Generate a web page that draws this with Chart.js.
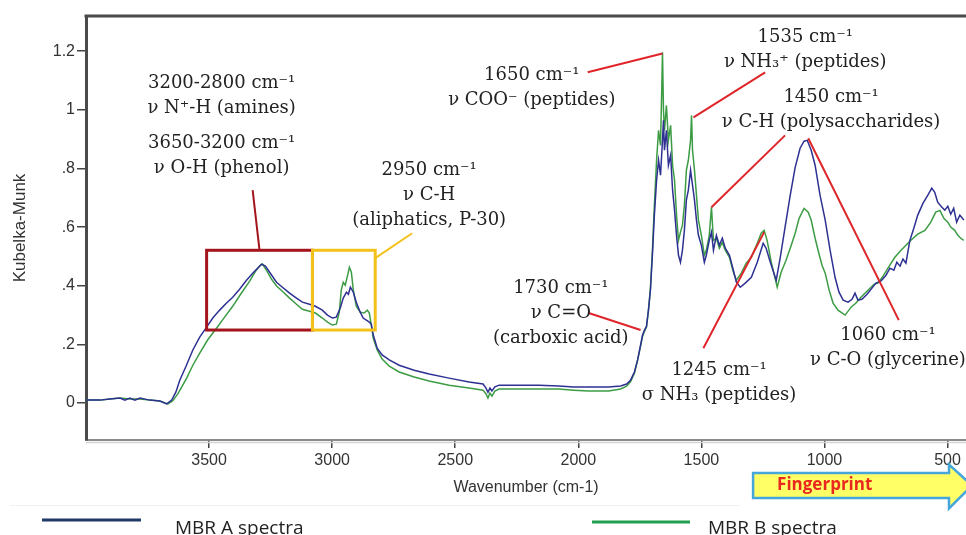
<!DOCTYPE html>
<html>
<head>
<meta charset="utf-8">
<title>MBR spectra</title>
<script src="https://cdn.jsdelivr.net/npm/chart.js@4.4.1/dist/chart.umd.min.js"></script>
<style>
  html, body { margin: 0; padding: 0; background: #fff; }
  #wrap { width: 966px; height: 535px; position: relative; overflow: hidden; }
</style>
</head>
<body>
<div id="wrap"><canvas id="spectraChart" width="966" height="535"></canvas></div>
<script>
// Wavenumber (cm-1) and Kubelka-Munk values
const wavenumbersA = [4000,3943,3903,3862,3842,3822,3801,3781,3741,3700,
  3672,3652,3635,3619,3595,3566,3538,3510,3485,3457,
  3429,3404,3376,3348,3319,3299,3287,3271,3254,3226,
  3202,3173,3145,3121,3092,3068,3040,3019,2999,2983,
  2967,2955,2942,2934,2926,2914,2902,2886,2874,2861,
  2849,2841,2833,2817,2797,2768,2728,2667,2606,2525,
  2444,2387,2375,2367,2359,2351,2339,2322,2241,2160,
  2079,2019,1958,1877,1828,1804,1788,1772,1759,1747,
  1739,1731,1723,1715,1707,1699,1691,1682,1674,1666,
  1658,1654,1650,1642,1634,1625,1617,1609,1601,1593,
  1585,1577,1569,1561,1553,1544,1536,1528,1520,1512,
  1500,1488,1480,1468,1459,1451,1439,1427,1415,1403,
  1386,1370,1358,1342,1322,1297,1273,1249,1237,1220,
  1196,1180,1160,1139,1119,1099,1083,1070,1054,1038,
  1018,997,977,957,941,924,904,888,876,864,
  848,827,807,791,771,750,734,718,706,693,
  681,669,653,637,621,600,580,564,552,540,
  523,511,499,487,475,463,450,434];
const kubelkaA = [0.010,0.010,0.014,0.017,0.010,0.017,0.010,0.017,0.010,0.007,
  -0.003,0.010,0.037,0.078,0.123,0.181,0.225,0.259,0.290,0.317,
  0.341,0.361,0.388,0.419,0.446,0.463,0.474,0.467,0.446,0.412,
  0.395,0.375,0.358,0.344,0.337,0.330,0.317,0.300,0.290,0.293,
  0.324,0.358,0.378,0.371,0.395,0.378,0.344,0.310,0.290,0.283,
  0.276,0.269,0.232,0.187,0.164,0.147,0.129,0.112,0.099,0.085,
  0.072,0.065,0.051,0.037,0.051,0.041,0.055,0.061,0.061,0.061,
  0.058,0.055,0.055,0.055,0.058,0.065,0.078,0.106,0.147,0.198,
  0.232,0.249,0.262,0.317,0.385,0.504,0.641,0.760,0.828,0.777,
  0.896,0.964,0.862,0.930,0.811,0.845,0.726,0.658,0.572,0.504,
  0.480,0.521,0.589,0.692,0.726,0.794,0.743,0.692,0.624,0.572,
  0.538,0.480,0.504,0.555,0.583,0.521,0.572,0.538,0.562,0.528,
  0.504,0.453,0.412,0.395,0.409,0.429,0.480,0.545,0.528,0.480,
  0.419,0.494,0.600,0.709,0.804,0.869,0.893,0.896,0.862,0.811,
  0.709,0.624,0.521,0.429,0.378,0.351,0.344,0.354,0.375,0.351,
  0.354,0.371,0.392,0.409,0.416,0.436,0.460,0.453,0.480,0.467,
  0.491,0.477,0.555,0.596,0.641,0.681,0.709,0.733,0.719,0.685,
  0.668,0.658,0.671,0.644,0.664,0.617,0.641,0.624];

const wavenumbersB = [4000,3943,3903,3862,3822,3781,3741,3700,3668,3648,
  3627,3611,3591,3566,3538,3506,3469,3437,3404,3372,
  3335,3311,3295,3283,3267,3246,3226,3198,3173,3145,
  3121,3092,3068,3040,3019,2999,2983,2971,2963,2955,
  2947,2938,2930,2922,2914,2902,2886,2870,2857,2849,
  2841,2833,2817,2797,2768,2728,2667,2606,2525,2444,
  2387,2375,2367,2359,2351,2339,2322,2241,2160,2079,
  2019,1958,1877,1828,1804,1788,1772,1759,1747,1739,
  1731,1723,1715,1707,1699,1691,1682,1674,1666,1662,
  1658,1654,1650,1642,1634,1625,1617,1609,1601,1593,
  1585,1577,1569,1561,1553,1544,1540,1536,1528,1520,
  1512,1500,1488,1480,1468,1459,1451,1439,1427,1415,
  1403,1386,1370,1358,1338,1318,1297,1273,1257,1245,
  1233,1216,1192,1176,1156,1135,1119,1103,1083,1066,
  1054,1038,1026,1010,997,981,965,945,916,892,
  872,852,823,799,783,762,742,714,689,669,
  649,621,592,568,548,531,515,499,487,471,
  458,446,434];
const kubelkaB = [0.010,0.010,0.014,0.017,0.014,0.014,0.010,0.007,-0.003,0.007,
  0.031,0.055,0.085,0.129,0.170,0.215,0.256,0.293,0.330,0.371,
  0.416,0.450,0.467,0.474,0.453,0.422,0.399,0.378,0.358,0.337,
  0.320,0.313,0.307,0.290,0.276,0.266,0.269,0.310,0.385,0.412,
  0.402,0.433,0.463,0.446,0.385,0.330,0.310,0.307,0.317,0.307,
  0.266,0.221,0.181,0.150,0.126,0.106,0.089,0.075,0.061,0.051,
  0.044,0.031,0.017,0.034,0.024,0.041,0.048,0.048,0.048,0.048,
  0.044,0.041,0.041,0.048,0.058,0.072,0.102,0.147,0.194,0.228,
  0.245,0.259,0.317,0.392,0.521,0.675,0.828,0.930,0.879,1.032,
  1.196,0.998,0.930,1.015,0.896,0.947,0.811,0.760,0.641,0.555,
  0.583,0.606,0.675,0.794,0.828,0.896,0.981,0.862,0.794,0.709,
  0.624,0.572,0.504,0.521,0.572,0.668,0.555,0.562,0.528,0.548,
  0.521,0.497,0.446,0.419,0.443,0.477,0.497,0.545,0.579,0.589,
  0.555,0.480,0.395,0.446,0.487,0.538,0.579,0.630,0.664,0.651,
  0.624,0.562,0.521,0.470,0.443,0.385,0.341,0.317,0.300,0.327,
  0.341,0.361,0.385,0.405,0.409,0.433,0.460,0.497,0.521,0.538,
  0.555,0.576,0.589,0.617,0.651,0.657,0.630,0.617,0.600,0.589,
  0.572,0.562,0.555];

const xTicks = [3500, 3000, 2500, 2000, 1500, 1000, 500];
const yTicks = [0, 0.2, 0.4, 0.6, 0.8, 1, 1.2];
const yTickLabels = ['0', '.2', '.4', '.6', '.8', '1', '1.2'];
const seriesNames = ['MBR A spectra', 'MBR B spectra'];

// band annotations: text lines anchored at (wavenumber, K-M) of the first line centre
const bandLabels = [
  { lines: ['3200-2800 cm\u207B\u00B9', '\u03BD N\u207A-H (amines)'], wn: 3449, km: 1.090 },
  { lines: ['3650-3200 cm\u207B\u00B9', '\u03BD O-H (phenol)'], wn: 3449, km: 0.886 },
  { lines: ['2950 cm\u207B\u00B9', '\u03BD C-H', '(aliphatics, P-30)'], wn: 2606, km: 0.794 },
  { lines: ['1650 cm\u207B\u00B9', '\u03BD COO\u207B (peptides)'], wn: 2189, km: 1.118 },
  { lines: ['1535 cm\u207B\u00B9', '\u03BD NH\u2083\u207A (peptides)'], wn: 1078, km: 1.247 },
  { lines: ['1450 cm\u207B\u00B9', '\u03BD C-H (polysaccharides)'], wn: 973, km: 1.043 },
  { lines: ['1730 cm\u207B\u00B9', '\u03BD C=O', '(carboxic acid)'], wn: 2071, km: 0.392 },
  { lines: ['1245 cm\u207B\u00B9', '\u03C3 NH\u2083 (peptides)'], wn: 1428, km: 0.112 },
  { lines: ['1060 cm\u207B\u00B9', '\u03BD C-O (glycerine)'], wn: 742, km: 0.232 }
];

// leader lines from a label to its band
const leaders = [
  { from: [3323, 0.726], to: [3295, 0.521], color: '#a3141c' },
  { from: [2825, 0.494], to: [2675, 0.579], color: '#f2c21b' },
  { from: [1962, 1.128], to: [1658, 1.192], color: '#e0252a' },
  { from: [1241, 1.128], to: [1532, 0.974], color: '#e0252a' },
  { from: [1160, 0.913], to: [1459, 0.668], color: '#e0252a' },
  { from: [1066, 0.903], to: [698, 0.283], color: '#e0252a' },
  { from: [1492, 0.187], to: [1245, 0.583], color: '#e0252a' },
  { from: [1958, 0.307], to: [1747, 0.249], color: '#e0252a' }
];

// highlighted regions
const regionBoxes = [
  { from: 3510, to: 3080, top: 0.521, bottom: 0.249, color: '#a3141c' },
  { from: 3080, to: 2825, top: 0.521, bottom: 0.249, color: '#f2c21b' }
];

const fingerprintStart = 1290;

const toPoints = (xs, ys) => xs.map((w, i) => ({ x: w, y: ys[i] }));

const overlayPlugin = {
    id: 'overlay',
    afterDatasetsDraw(chart) {
        const { ctx, scales: { x, y } } = chart;
        const px = v => x.getPixelForValue(v);
        const py = v => y.getPixelForValue(v);
        ctx.save();

        regionBoxes.forEach(b => {
            ctx.strokeStyle = b.color;
            ctx.lineWidth = 3;
            ctx.strokeRect(px(b.from), py(b.top), px(b.to) - px(b.from), py(b.bottom) - py(b.top));
        });

        leaders.forEach(l => {
            ctx.strokeStyle = l.color;
            ctx.lineWidth = 2;
            ctx.beginPath();
            ctx.moveTo(px(l.from[0]), py(l.from[1]));
            ctx.lineTo(px(l.to[0]), py(l.to[1]));
            ctx.stroke();
        });

        ctx.fillStyle = '#222';
        ctx.font = '18px "DejaVu Serif"';
        ctx.textAlign = 'center';
        ctx.textBaseline = 'middle';
        bandLabels.forEach(lab => {
            lab.lines.forEach((t, i) => {
                ctx.fillText(t, px(lab.wn), py(lab.km) + i * 25);
            });
        });
        ctx.restore();
    },
    afterDraw(chart) {
        const { ctx, chartArea, scales: { x } } = chart;
        ctx.save();

        // top frame line
        ctx.strokeStyle = '#4a4a4a';
        ctx.lineWidth = 3;
        ctx.beginPath();
        ctx.moveTo(chartArea.left - 1.5, chartArea.top);
        ctx.lineTo(chartArea.right, chartArea.top);
        ctx.stroke();

        // light shadow under the x axis
        ctx.strokeStyle = '#d4d4d4';
        ctx.lineWidth = 1.5;
        ctx.beginPath();
        ctx.moveTo(chartArea.left, chartArea.bottom + 2.5);
        ctx.lineTo(chartArea.right, chartArea.bottom + 2.5);
        ctx.stroke();

        // fingerprint arrow
        const ax = x.getPixelForValue(fingerprintStart);
        const headX = 949, tipX = 972, cy = 485.5;
        ctx.beginPath();
        ctx.moveTo(ax, cy - 12.5);
        ctx.lineTo(headX, cy - 12.5);
        ctx.lineTo(headX, cy - 21);
        ctx.lineTo(tipX, cy);
        ctx.lineTo(headX, cy + 23);
        ctx.lineTo(headX, cy + 12.5);
        ctx.lineTo(ax, cy + 12.5);
        ctx.closePath();
        ctx.fillStyle = '#ffff66';
        ctx.fill();
        ctx.strokeStyle = '#45a6dc';
        ctx.lineWidth = 2.5;
        ctx.stroke();
        ctx.fillStyle = '#e8281e';
        ctx.font = 'bold 17px "Open Sans"';
        ctx.textAlign = 'left';
        ctx.textBaseline = 'middle';
        ctx.fillText('Fingerprint', ax + 24, cy);

        // legend
        ctx.strokeStyle = '#f0f0f0';
        ctx.lineWidth = 1;
        ctx.beginPath();
        ctx.moveTo(10, 505.5);
        ctx.lineTo(740, 505.5);
        ctx.stroke();

        const legendItems = [
            { x0: 42, x1: 141, ly: 520, tx: 175, color: '#1f3a68' },
            { x0: 592, x1: 690, ly: 522, tx: 708, color: '#22a050' }
        ];
        ctx.font = '19px "Open Sans"';
        ctx.textBaseline = 'alphabetic';
        ctx.fillStyle = '#222';
        legendItems.forEach((it, i) => {
            ctx.strokeStyle = it.color;
            ctx.lineWidth = 3;
            ctx.beginPath();
            ctx.moveTo(it.x0, it.ly);
            ctx.lineTo(it.x1, it.ly);
            ctx.stroke();
            ctx.fillText(seriesNames[i], it.tx, 534);
        });
        ctx.restore();
    }
};

const ctx = document.getElementById('spectraChart').getContext('2d');
new Chart(ctx, {
    type: 'line',
    data: {
        datasets: [
            {
                label: seriesNames[0],
                data: toPoints(wavenumbersA, kubelkaA),
                borderColor: '#2e3192',
                borderWidth: 1.5,
                pointRadius: 0,
                tension: 0
            },
            {
                label: seriesNames[1],
                data: toPoints(wavenumbersB, kubelkaB),
                borderColor: '#3c9c44',
                borderWidth: 1.5,
                pointRadius: 0,
                tension: 0
            }
        ]
    },
    options: {
        responsive: false,
        animation: false,
        devicePixelRatio: 1,
        layout: { padding: { top: 16, left: 0, right: 0, bottom: 0 } },
        plugins: {
            legend: { display: false },
            tooltip: { enabled: false }
        },
        scales: {
            x: {
                type: 'linear',
                reverse: true,
                min: 425,
                max: 4000,
                afterBuildTicks: scale => { scale.ticks = xTicks.map(v => ({ value: v })); },
                afterFit: scale => { scale.height = 95; scale.paddingLeft = 0; scale.paddingRight = 0; },
                ticks: {
                    color: '#333',
                    font: { family: 'Liberation Sans', size: 16 },
                    padding: 3,
                    maxRotation: 0,
                    callback: v => String(v)
                },
                grid: { drawOnChartArea: false, drawTicks: true, tickLength: 8, color: '#444', lineWidth: 1.5 },
                border: { display: true, color: '#8a8a8a', width: 2 },
                title: {
                    display: true,
                    text: 'Wavenumber (cm-1)',
                    color: '#333',
                    font: { family: 'Liberation Sans', size: 16 },
                    padding: { top: 0, bottom: 38 }
                }
            },
            y: {
                min: -0.126,
                max: 1.32,
                afterBuildTicks: scale => { scale.ticks = yTicks.map(v => ({ value: v })); },
                afterFit: scale => { scale.width = 86; scale.paddingTop = 0; scale.paddingBottom = 0; },
                ticks: {
                    color: '#333',
                    font: { family: 'Liberation Sans', size: 16 },
                    padding: 2,
                    callback: v => yTickLabels[yTicks.findIndex(t => Math.abs(t - v) < 1e-6)]
                },
                grid: { drawOnChartArea: false, drawTicks: true, tickLength: 9, color: '#444', lineWidth: 1.5 },
                border: { display: true, color: '#4a4a4a', width: 3 },
                title: {
                    display: true,
                    text: 'Kubelka-Munk',
                    color: '#333',
                    font: { family: 'Liberation Sans', size: 17 },
                    padding: { top: 10, bottom: 0 }
                }
            }
        }
    },
    plugins: [overlayPlugin]
});
</script>
</body>
</html>
